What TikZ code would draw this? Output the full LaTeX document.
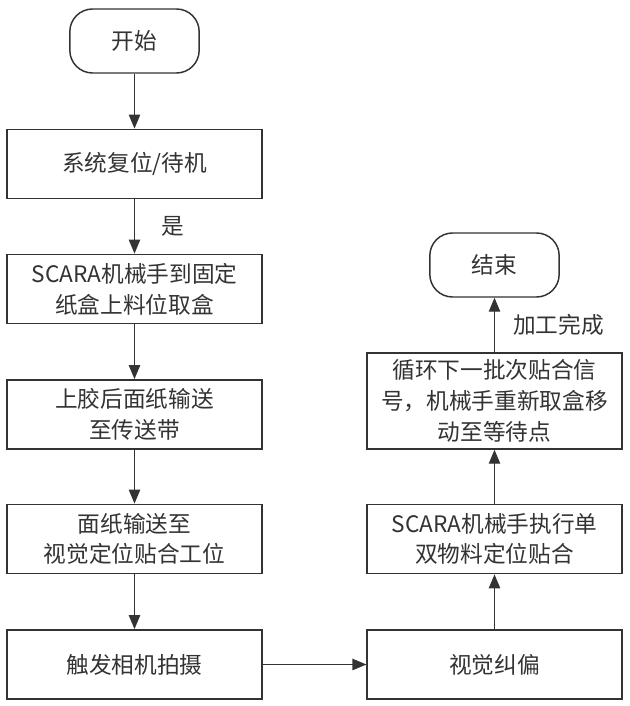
\documentclass[tikz,border=0pt]{standalone}
\usepackage{fontspec}
\setmainfont{Noto Sans CJK SC}
\usetikzlibrary{arrows.meta}

\definecolor{traitgris}{RGB}{51,51,51}

\tikzset{
  etape/.style={draw=traitgris, line width=1.1pt, rectangle, fill=white,
    minimum width=191pt, minimum height=52pt, align=center,
    text=traitgris, font=\fontsize{17}{23}\selectfont, inner sep=2pt},
  debutfin/.style={etape, rounded corners=17pt,
    minimum width=97pt, minimum height=48pt},
  fleche/.style={draw=traitgris, line width=1.1pt,
    -{Triangle[length=10.5pt,width=8.5pt]}},
  etiquette/.style={text=traitgris, font=\fontsize{17}{23}\selectfont}
}

\begin{document}
\begin{tikzpicture}[x=0.75pt,y=-0.75pt]

\useasboundingbox (0,0) rectangle (630,706);

% colonne de gauche
\node[debutfin] (debut)  at (134.5,41)  {开始};
\node[etape]    (reset)  at (134.5,164) {系统复位/待机};
\node[etape]    (prise)  at (134.5,289) {SCARA机械手到固定\\纸盒上料位取盒};
\node[etape]    (colle)  at (134.5,414.5) {上胶后面纸输送\\至传送带};
\node[etape]    (face)   at (134.5,539) {面纸输送至\\视觉定位贴合工位};
\node[etape]    (photo)  at (134.5,664.5) {触发相机拍摄};

% colonne de droite
\node[etape]    (vision) at (494.5,664.5) {视觉纠偏};
\node[etape]    (pose)   at (494.5,539) {SCARA机械手执行单\\双物料定位贴合};
\node[etape, minimum height=72pt] (boucle) at (494.5,401)
  {循环下一批次贴合信\\号，机械手重新取盒移\\动至等待点};
\node[debutfin] (fin)    at (494.5,265) {结束};

\draw[fleche] (debut) -- (reset);
\draw[fleche] (reset) -- node[etiquette, right=16pt] {是} (prise);
\draw[fleche] (prise) -- (colle);
\draw[fleche] (colle) -- (face);
\draw[fleche] (face) -- (photo);
\draw[fleche] (photo) -- (vision);
\draw[fleche] (vision) -- (pose);
\draw[fleche] (pose) -- (boucle);
\draw[fleche] (boucle) -- node[etiquette, right=10pt] {加工完成} (fin);

\end{tikzpicture}
\end{document}
